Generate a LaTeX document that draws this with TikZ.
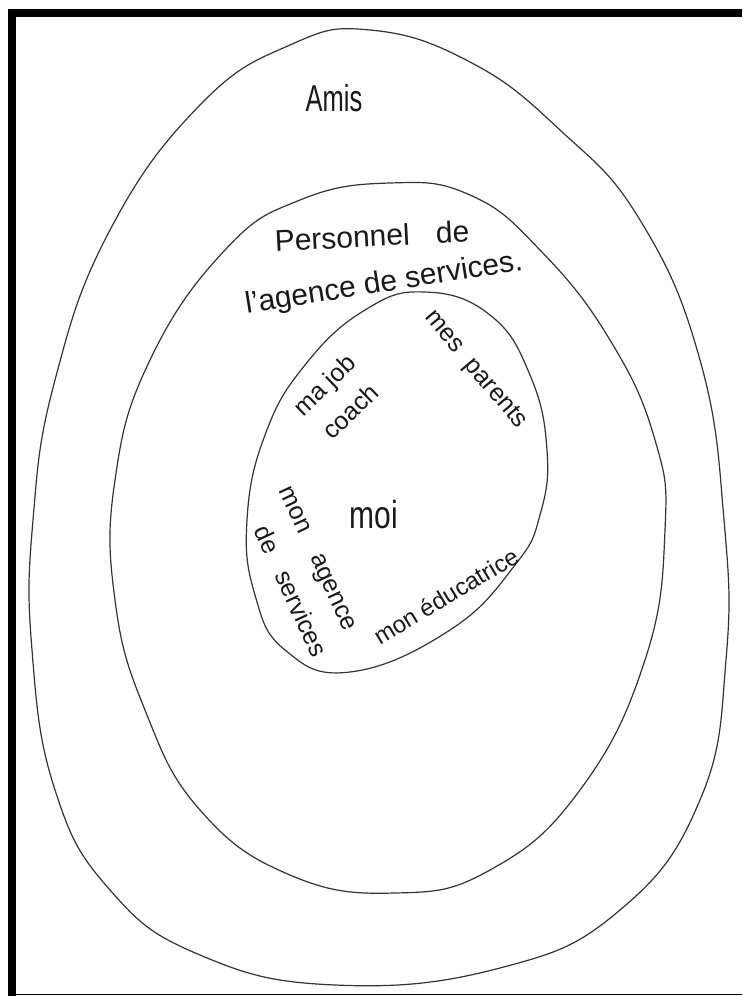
\documentclass[tikz,border=0pt]{standalone}
\usepackage{fontspec}
\setmainfont{Liberation Sans}
\begin{document}
\begin{tikzpicture}[x=1pt,y=-1pt,
  ring/.style={draw=black!80, line width=1.2pt},
  hand/.style={inner sep=0pt, text=black!90},
  big/.style={hand, font=\fontsize{30}{34}\selectfont},
  mid/.style={hand, font=\fontsize{25}{28}\selectfont}]
\useasboundingbox (0,0) rectangle (742,996);
% frame
\fill[black] (8,9) rectangle (16,996);
\fill[black] (8,9) rectangle (742,17);
\draw[black, line width=1.5pt] (8,994.5) -- (742,994.5);
% outer egg
\draw[ring] plot[smooth cycle, tension=0.75] coordinates {
 (370,30) (470,62) (560,130) (640,220) (700,360) (724,520) (726,660)
 (700,800) (620,910) (500,968) (335,985) (200,955) (110,890) (55,790)
 (32,650) (33,520) (55,380) (110,230) (200,105) (290,45)};
% middle
\draw[ring] plot[smooth cycle, tension=0.75] coordinates {
 (390,183) (470,195) (540,250) (610,340) (655,440) (665,530) (645,660)
 (580,790) (490,870) (395,893) (290,875) (200,810) (145,710) (115,600)
 (115,480) (150,360) (225,250) (300,200)};
% inner
\draw[ring] plot[smooth cycle, tension=0.75] coordinates {
 (425,292) (490,315) (530,375) (547,450) (540,515) (515,565)
 (450,630) (350,672) (285,650) (255,595) (247,520) (265,435)
 (305,365) (365,310)};
% labels
\node[big, xscale=0.85, yscale=1.25] (amis) at (334,98) {Amis};
\node[big, rotate=3] (pers) at (372,236) {Personnel\hspace{0.6em} de};
\node[big, rotate=9] (agence) at (384,284) {l'agence de services.};
\node[hand, rotate=44, align=center, font=\fontsize{25}{37}\selectfont]
  (jobcoach) at (337,398) {ma job\\coach};
\node[mid, rotate=-50] (parents) at (475,370) {mes\hspace{8pt} parents};
\node[big, yscale=1.3] (moi) at (374,515) {moi};
\node[hand, rotate=-65, align=left, font=\fontsize{25}{40}\selectfont]
  (monagence) at (302,572)
  {mon\hspace{25pt}agence\\\hspace{25pt}de\hspace{22pt}services};
\node[hand, rotate=31, font=\fontsize{24}{28}\selectfont] (educ) at (446,596) {mon éducatrice};
\end{tikzpicture}
\end{document}
